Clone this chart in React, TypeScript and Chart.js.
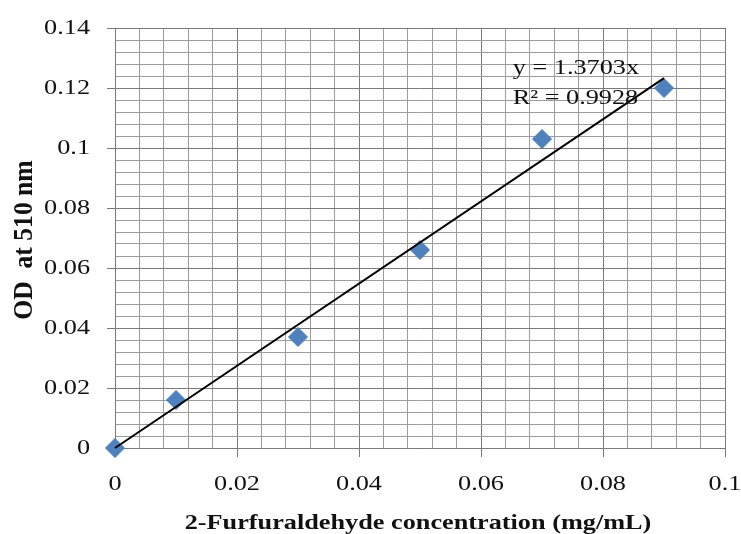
import React, { useEffect, useRef } from 'react';
import { Chart, registerables } from 'chart.js';

Chart.register(...registerables);

// ---- data ----
const concentration = [0, 0.01, 0.03, 0.05, 0.07, 0.09];
const odValues = [0, 0.016, 0.037, 0.066, 0.103, 0.12];
const trendX = [0, 0.09];
const trendY = [0, 0.1233];
const xTicks = [0, 0.02, 0.04, 0.06, 0.08, 0.1];
const xTickLabels = ['0', '0.02', '0.04', '0.06', '0.08', '0.1'];
const yTicks = [0, 0.02, 0.04, 0.06, 0.08, 0.1, 0.12, 0.14];
const yTickLabels = ['0', '0.02', '0.04', '0.06', '0.08', '0.1', '0.12', '0.14'];
const equationLines = ['y = 1.3703x', 'R\u00B2 = 0.9928'];
const xTitle = '2-Furfuraldehyde concentration (mg/mL)';
const yTitle = 'OD  at 510 nm';

const MAJOR = 0.02;
const MINOR = 0.004;
const isMajor = (v: number) => Math.abs(v / MAJOR - Math.round(v / MAJOR)) < 1e-6;

const SERIF = '"Liberation Serif", "Times New Roman", serif';
const STRETCH = 1.25;

function drawText(
  ctx: CanvasRenderingContext2D,
  text: string,
  x: number,
  y: number,
  align: CanvasTextAlign,
  baseline: CanvasTextBaseline,
  font: string,
  rotate = 0,
  sx = STRETCH,
  sy = 1
) {
  ctx.save();
  ctx.translate(x, y);
  if (rotate) ctx.rotate(rotate);
  ctx.scale(sx, sy);
  ctx.font = font;
  ctx.fillStyle = '#111111';
  ctx.textAlign = align;
  ctx.textBaseline = baseline;
  ctx.fillText(text, 0, 0);
  ctx.restore();
}

const textPlugin = {
  id: 'stretchedText',
  afterDraw(chart: any) {
    const ctx: CanvasRenderingContext2D = chart.ctx;
    const xs = chart.scales.x;
    const ys = chart.scales.y;
    const area = chart.chartArea;
    const tickFont = `21px ${SERIF}`;
    yTicks.forEach((v, i) => {
      drawText(ctx, yTickLabels[i], area.left - 25, ys.getPixelForValue(v), 'right', 'middle', tickFont);
    });
    xTicks.forEach((v, i) => {
      drawText(ctx, xTickLabels[i], xs.getPixelForValue(v), area.bottom + 42, 'center', 'alphabetic', tickFont);
    });
    // equation
    const ex = xs.getPixelForValue(0.0652);
    drawText(ctx, equationLines[0], ex, ys.getPixelForValue(0.1247), 'left', 'alphabetic', tickFont);
    drawText(ctx, equationLines[1], ex, ys.getPixelForValue(0.1147), 'left', 'alphabetic', tickFont);
    // axis titles
    const boldFont = `bold 21px ${SERIF}`;
    drawText(ctx, xTitle, (area.left + area.right) / 2 - 2, area.bottom + 81, 'center', 'alphabetic', boldFont);
    drawText(ctx, yTitle, 32, (area.top + area.bottom) / 2 + 2, 'center', 'alphabetic', boldFont, -Math.PI / 2, 1.22, 1.25);
  },
};

export default function App() {
  const canvasRef = useRef<HTMLCanvasElement | null>(null);

  useEffect(() => {
    const canvas = canvasRef.current;
    if (!canvas) return;
    const gridColor = (c: any) => (c.tick && isMajor(c.tick.value) ? '#7a7a7a' : '#9c9c9c');
    const tickColor = (c: any) => (c.tick && isMajor(c.tick.value) ? '#7a7a7a' : 'rgba(0,0,0,0)');
    const chart = new Chart(canvas, {
      type: 'scatter',
      data: {
        datasets: [
          {
            label: 'Linear fit',
            data: trendX.map((x, i) => ({ x, y: trendY[i] })),
            showLine: true,
            borderColor: '#000000',
            borderWidth: 2,
            pointRadius: 0,
            order: 0,
            clip: false,
          },
          {
            label: 'OD',
            data: concentration.map((x, i) => ({ x, y: odValues[i] })),
            pointStyle: 'rectRot',
            pointRadius: 9.5,
            backgroundColor: '#4f81bd',
            borderColor: '#4a7dba',
            borderWidth: 1,
            order: 1,
            clip: false,
          },
        ],
      },
      options: {
        animation: false,
        responsive: true,
        maintainAspectRatio: false,
        devicePixelRatio: 1,
        layout: { padding: { top: 28, right: 16, left: 0, bottom: 0 } },
        plugins: {
          legend: { display: false },
          tooltip: { enabled: false },
        },
        scales: {
          x: {
            type: 'linear',
            min: 0,
            max: 0.1,
            ticks: { stepSize: MINOR, autoSkip: false, display: false },
            grid: { color: gridColor, tickColor, lineWidth: 1, tickLength: 9, drawTicks: true },
            border: { display: true, color: '#7a7a7a', width: 1 },
            afterFit: (s: any) => {
              s.height = 86;
            },
          },
          y: {
            type: 'linear',
            min: 0,
            max: 0.14,
            ticks: { stepSize: MINOR, autoSkip: false, display: false },
            grid: { color: gridColor, tickColor, lineWidth: 1, tickLength: 8, drawTicks: true },
            border: { display: true, color: '#7a7a7a', width: 1 },
            afterFit: (s: any) => {
              s.width = 115;
            },
          },
        },
      },
      plugins: [textPlugin],
    } as any);
    return () => chart.destroy();
  }, []);

  return (
    <div style={{ position: 'fixed', left: 0, top: 0, width: 741, height: 534, background: '#ffffff' }}>
      <canvas ref={canvasRef} />
    </div>
  );
}
